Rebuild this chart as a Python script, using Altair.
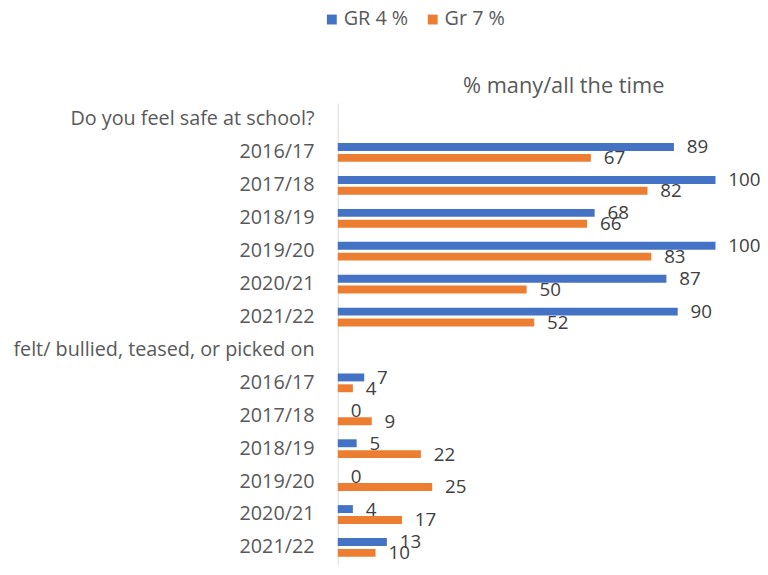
import altair as alt
import pandas as pd

sections = ["Do you feel safe at school?", "felt/ bullied, teased, or picked on"]
years = ["2016/17", "2017/18", "2018/19", "2019/20", "2020/21", "2021/22"]
series = ["GR 4 %", "Gr 7 %"]
safe_gr4 = [89, 100, 68, 100, 87, 90]
safe_gr7 = [67, 82, 66, 83, 50, 52]
bully_gr4 = [7, 0, 5, 0, 4, 13]
bully_gr7 = [4, 9, 22, 25, 17, 10]

rows = []
domain = []
idx = 0
for sec, g4, g7 in [(sections[0], safe_gr4, safe_gr7), (sections[1], bully_gr4, bully_gr7)]:
    domain.append(f"{idx:02d}~{sec}")
    idx += 1
    for y, a, b in zip(years, g4, g7):
        key = f"{idx:02d}~{y}"
        domain.append(key)
        rows.append({"cat": key, "series": series[0], "value": a})
        rows.append({"cat": key, "series": series[1], "value": b})
        idx += 1
df = pd.DataFrame(rows)

FONT = "Open Sans"
colors = ["#4472C4", "#ED7D31"]
yscale = alt.Scale(domain=domain, paddingInner=0.43, paddingOuter=0.215)

y_enc = alt.Y(
    "cat:N",
    scale=yscale,
    axis=alt.Axis(
        title=None,
        labelExpr="substring(datum.label, indexof(datum.label, '~') + 1)",
        labelFontSize=20,
        labelColor="#595959",
        labelFont=FONT,
        labelPadding=24,
        labelLimit=400,
        ticks=False,
        tickSize=0,
        domainColor="#d9d9d9",
        grid=False,
    ),
)
yoff = alt.YOffset("series:N", scale=alt.Scale(domain=series, paddingInner=0.27, paddingOuter=0))
x_enc = alt.X(
    "value:Q",
    scale=alt.Scale(domain=[0, 100]),
    axis=alt.Axis(
        orient="top",
        title="% many/all the time",
        titleFont=FONT,
        titleFontSize=22,
        titleFontWeight="normal",
        titleColor="#595959",
        titleX=228,
        titleY=-6,
        labels=False,
        ticks=False,
        tickSize=0,
        domain=False,
        grid=False,
    ),
)

bars = alt.Chart(df).mark_bar().encode(
    x=x_enc,
    y=y_enc,
    yOffset=yoff,
    color=alt.Color(
        "series:N",
        scale=alt.Scale(domain=series, range=colors),
        legend=alt.Legend(
            title=None,
            orient="none",
            legendX=-16,
            legendY=-94.5,
            direction="horizontal",
            symbolType="square",
            symbolSize=100,
            symbolStrokeWidth=0,
            labelFont=FONT,
            labelFontSize=20,
            labelColor="#595959",
            labelOffset=2,
            columnPadding=14,
        ),
    ),
)

labels = alt.Chart(df).mark_text(
    align="left", baseline="middle", dx=13, dy=0.5, font=FONT, fontSize=19, color="#404040"
).encode(
    x="value:Q",
    y=alt.Y("cat:N", scale=yscale),
    yOffset=yoff,
    text="value:Q",
)

chart = (
    alt.layer(bars, labels)
    .properties(width=382, height=466, padding={"left": 4.5, "top": -2, "right": -1, "bottom": 1})
    .configure_view(stroke=None)
)

chart.save("out.html", embed_options={"renderer": "svg", "actions": False})
